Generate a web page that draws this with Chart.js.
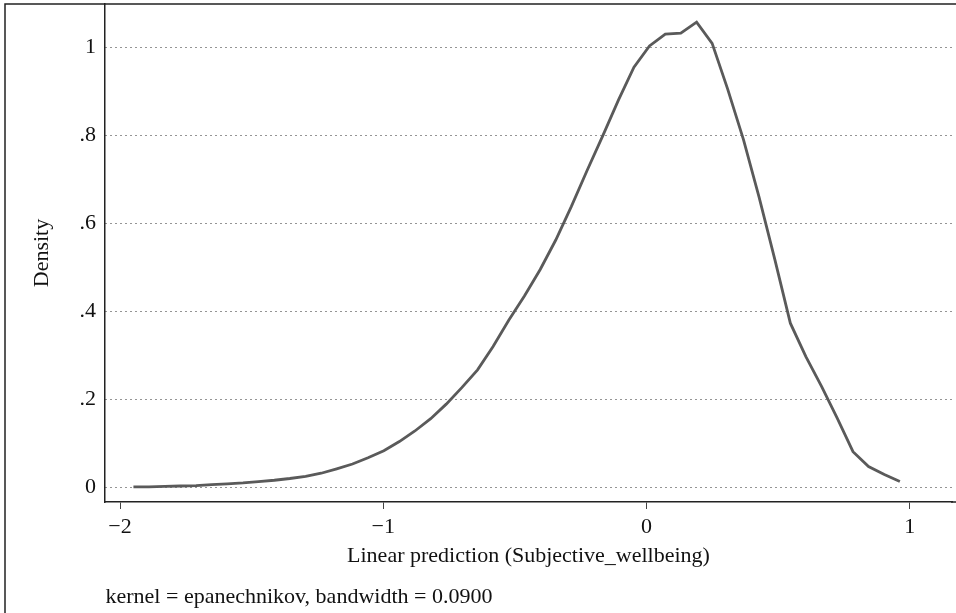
<!DOCTYPE html>
<html>
<head>
<meta charset="utf-8">
<script src="https://cdn.jsdelivr.net/npm/chart.js@4"></script>
<style>
  html, body { margin: 0; padding: 0; background: #fff; }
  #wrap { position: relative; width: 956px; height: 613px; }
</style>
</head>
<body>
<div id="wrap"><canvas id="c"></canvas></div>
<script>
// ---- data ----
const xValues = [
  -1.949, -1.890, -1.830, -1.771, -1.711, -1.652, -1.593, -1.533, -1.474, -1.414,
  -1.355, -1.295, -1.236, -1.177, -1.117, -1.058, -0.998, -0.939, -0.880, -0.820,
  -0.761, -0.701, -0.642, -0.583, -0.523, -0.464, -0.404, -0.345, -0.286, -0.226,
  -0.167, -0.107, -0.048, 0.011, 0.071, 0.130, 0.190, 0.249, 0.308, 0.368,
  0.427, 0.487, 0.546, 0.605, 0.665, 0.724, 0.784, 0.843, 0.903, 0.962
];
const densityValues = [
  0.001, 0.001, 0.002, 0.003, 0.004, 0.006, 0.008, 0.010, 0.013, 0.016,
  0.020, 0.025, 0.032, 0.042, 0.053, 0.067, 0.083, 0.104, 0.128, 0.156,
  0.189, 0.227, 0.267, 0.320, 0.380, 0.435, 0.495, 0.562, 0.638, 0.720,
  0.798, 0.880, 0.955, 1.003, 1.030, 1.032, 1.057, 1.009, 0.905, 0.790,
  0.660, 0.518, 0.373, 0.297, 0.229, 0.157, 0.081, 0.047, 0.029, 0.013
];
const xTickValues = [-2, -1, 0, 1];
const xTickLabels = ['\u22122', '\u22121', '0', '1'];
const yTickValues = [0, 0.2, 0.4, 0.6, 0.8, 1];
const yTickLabels = ['0', '.2', '.4', '.6', '.8', '1'];
const xTitle = 'Linear prediction (Subjective_wellbeing)';
const yTitle = 'Density';
const noteText = 'kernel = epanechnikov, bandwidth = 0.0900';

const FONT = '"Liberation Serif", "Times New Roman", serif';
const points = xValues.map((x, i) => ({ x: x, y: densityValues[i] }));

const framePlugin = {
  id: 'frame',
  afterDraw(chart) {
    const ctx = chart.ctx;
    const ca = chart.chartArea;
    ctx.save();
    ctx.strokeStyle = '#222';
    ctx.lineWidth = 1.5;
    // outer graph-region border (left and top visible)
    ctx.beginPath();
    ctx.moveTo(5, 613);
    ctx.lineTo(5, 4);
    ctx.lineTo(956, 4);
    ctx.stroke();
    // extend x axis line to the right edge
    ctx.beginPath();
    ctx.moveTo(ca.right - 1, ca.bottom);
    ctx.lineTo(956, ca.bottom);
    ctx.stroke();
    // note
    ctx.fillStyle = '#111';
    ctx.font = '22px ' + FONT;
    ctx.textAlign = 'left';
    ctx.textBaseline = 'alphabetic';
    ctx.fillText(noteText, ca.left + 0.5, 603);
    ctx.restore();
  }
};

new Chart(document.getElementById('c'), {
  type: 'line',
  data: {
    datasets: [{
      data: points,
      borderColor: '#5a5a5a',
      borderWidth: 2.8,
      pointRadius: 0,
      tension: 0,
      fill: false
    }]
  },
  options: {
    responsive: true,
    maintainAspectRatio: false,
    animation: false,
    layout: { padding: { left: 0, top: 4, right: 4, bottom: 0 } },
    plugins: { legend: { display: false }, tooltip: { enabled: false } },
    scales: {
      x: {
        type: 'linear',
        min: -2.057,
        max: 1.160,
        afterBuildTicks(scale) { scale.ticks = xTickValues.map(v => ({ value: v })); },
        afterFit(scale) {
          scale.height = 111;
          scale.paddingLeft = 0; scale.paddingRight = 0;
          scale.paddingTop = 0; scale.paddingBottom = 0;
        },
        ticks: {
          autoSkip: false,
          maxRotation: 0,
          padding: 5,
          color: '#111',
          font: { family: FONT, size: 22 },
          callback: (v) => xTickLabels[xTickValues.indexOf(v)]
        },
        grid: { drawOnChartArea: false, drawTicks: true, tickLength: 7, color: '#444', lineWidth: 1 },
        border: { display: true, color: '#222', width: 1.5 },
        title: {
          display: true,
          text: xTitle,
          color: '#111',
          font: { family: FONT, size: 22 },
          padding: { top: 0, bottom: 44 }
        }
      },
      y: {
        type: 'linear',
        min: -0.0334,
        max: 1.0984,
        afterBuildTicks(scale) { scale.ticks = yTickValues.map(v => ({ value: v })); },
        afterFit(scale) {
          scale.width = 105;
          scale.paddingTop = 0; scale.paddingBottom = 0;
          scale.paddingLeft = 0; scale.paddingRight = 0;
        },
        ticks: {
          padding: 9,
          color: '#111',
          font: { family: FONT, size: 22 },
          callback: (v) => yTickLabels[yTickValues.indexOf(v)]
        },
        grid: { drawTicks: false, color: '#2a2a2a', lineWidth: 1 },
        border: { display: true, color: '#222', width: 1.5, dash: [1, 4] },
        title: {
          display: true,
          text: yTitle,
          color: '#111',
          font: { family: FONT, size: 22 },
          padding: { top: 29, bottom: 0 }
        }
      }
    }
  },
  plugins: [framePlugin]
});
</script>
</body>
</html>
